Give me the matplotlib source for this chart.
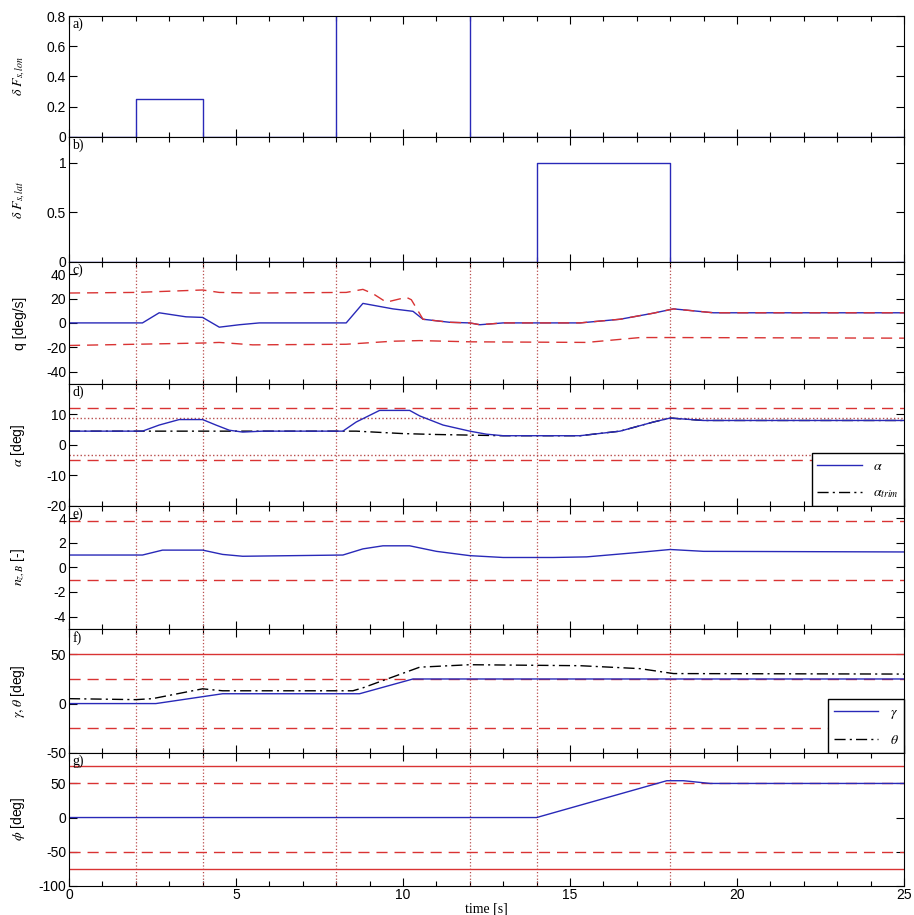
import numpy as np
import matplotlib
matplotlib.use('Agg')
import matplotlib.pyplot as plt
from matplotlib.ticker import MultipleLocator

# ---- data ----
t_lon = [0, 2, 2, 4, 4, 8, 8, 12, 12, 25]
dF_lon = [0, 0, 0.25, 0.25, 0, 0, 1, 1, 0, 0]

t_lat = [0, 14, 14, 18, 18, 25]
dF_lat = [0, 0, 1, 1, 0, 0]

t_q = [0, 2.2, 2.7, 3.5, 4.0, 4.5, 5.1, 5.7, 8.3, 8.8, 9.7, 10.3, 10.6, 11.4, 12.0, 12.3, 13.0, 15.3, 16.5, 17.5, 18.1, 19.3, 25]
q = [0, 0, 8.3, 5, 4.5, -3.5, -1.5, 0, 0, 16, 11.5, 9.5, 3, 0.5, 0, -1.5, 0, 0, 3, 8, 11.5, 8.3, 8.3]
t_q_up = [0, 2, 3.5, 4.0, 4.5, 5.5, 8.3, 8.8, 9.1, 9.5, 10.1, 10.25, 10.6, 11.4, 12.0, 12.3, 13.0, 15.3, 16.5, 17.5, 18.1, 19.3, 25]
q_up = [24.5, 25, 26.5, 27, 25, 24.5, 25, 27.5, 24, 17, 21, 19, 3, 0.5, 0, -1.5, 0, 0, 3, 8, 11.5, 8.3, 8.3]
t_q_lo = [0, 2, 4, 4.5, 5.5, 8.3, 9.7, 10.5, 12, 15.5, 17.1, 18, 25]
q_lo = [-18.5, -17.5, -16.5, -16, -18, -17.5, -15, -14.5, -15.5, -16, -12, -12, -12.5]

t_alpha = [0, 2.2, 2.7, 3.3, 4.0, 4.4, 4.8, 5.2, 5.8, 8.2, 8.6, 9.3, 10.2, 10.5, 11.2, 12, 12.5, 13, 15.3, 16.5, 17.5, 18, 19, 25]
alpha = [4.5, 4.5, 6.5, 8.3, 8.3, 6.5, 4.8, 4.2, 4.5, 4.5, 7.5, 11.3, 11.3, 9.5, 6.5, 4.5, 3.5, 3, 3, 4.5, 7.5, 8.8, 8, 8]
t_alpha_trim = [0, 8.6, 9.3, 10, 11, 12, 12.5, 13, 15.3, 16.5, 17.5, 18, 19, 25]
alpha_trim = [4.5, 4.5, 4.1, 3.7, 3.4, 3.2, 3.1, 3, 3, 4.5, 7.5, 8.8, 8, 8]
alpha_lim = [12, -5]
alpha_dot = [8.7, -3.2]

t_nz = [0, 2.2, 2.8, 4.0, 4.6, 5.2, 8.2, 8.8, 9.4, 10.2, 11, 12, 13, 14.5, 15.5, 17, 18, 19, 25]
nz = [1, 1, 1.4, 1.4, 1.05, 0.9, 1.0, 1.5, 1.75, 1.75, 1.3, 0.95, 0.8, 0.8, 0.85, 1.2, 1.45, 1.3, 1.25]
nz_lim = [3.8, -1]

t_gamma = [0, 2.6, 4.0, 4.6, 8.7, 10.3, 25]
gamma = [0, 0, 7, 10, 10, 25, 25]
t_theta = [0, 2, 2.5, 4.0, 4.6, 8.5, 8.8, 10.5, 12, 15.3, 17.1, 18.1, 25]
theta = [5, 4, 5, 15, 13, 13, 16, 37, 39.5, 38.5, 35.5, 30.5, 30]
gam_solid = [50]
gam_dash = [25, -25]

t_phi = [0, 14, 17.9, 18.4, 19.2, 25]
phi = [0, 0, 54, 54, 50, 50]
phi_solid = [75, -75]
phi_dash = [50, -50]

t_events = [2, 4, 8, 12, 14, 18]

blue = (0.16, 0.16, 0.72)
red = (0.85, 0.2, 0.2)
dotc = (0.72, 0.3, 0.3)

plt.rcParams['font.family'] = ['Liberation Sans', 'DejaVu Sans']
plt.rcParams['mathtext.fontset'] = 'stix'
plt.rcParams['axes.unicode_minus'] = False

fig = plt.figure(figsize=(9.14, 9.15), dpi=100)
gs = fig.add_gridspec(7, 1, height_ratios=[121, 125, 122, 122, 123, 124, 133],
                      left=0.0755, right=0.989, top=0.9825, bottom=0.032, hspace=0)
axs = [fig.add_subplot(gs[i, 0]) for i in range(7)]

for i, ax in enumerate(axs):
    ax.set_xlim(0, 25)
    ax.xaxis.set_major_locator(MultipleLocator(5))
    ax.xaxis.set_minor_locator(MultipleLocator(1))
    ax.tick_params(which='both', direction='in', top=True, right=True, labelsize=10, pad=2)
    ax.tick_params(which='major', length=6, width=0.8)
    ax.tick_params(which='minor', length=3.5, width=0.8)
    if i < 6:
        ax.tick_params(labelbottom=False)
    ax.text(0.004, 0.985, 'abcdefg'[i] + ')', transform=ax.transAxes, va='top', ha='left',
            fontsize=10, family='Liberation Serif')
    if i >= 2:
        for te in t_events:
            ax.axvline(te, color=dotc, ls=':', lw=0.9)

ax = axs[0]
ax.plot(t_lon, dF_lon, color=blue, lw=1)
ax.set_ylim(0, 0.8)
ax.set_yticks([0, 0.2, 0.4, 0.6, 0.8])
ax.set_yticklabels(['0', '0.2', '0.4', '0.6', '0.8'])
ax.set_ylabel(r'$\delta\ F_{s,lon}$')

ax = axs[1]
ax.plot(t_lat, dF_lat, color=blue, lw=1)
ax.set_ylim(0, 1.26)
ax.set_yticks([0, 0.5, 1])
ax.set_yticklabels(['0', '0.5', '1'])
ax.set_ylabel(r'$\delta\ F_{s,lat}$')

ax = axs[2]
ax.plot(t_q, q, color=blue, lw=1)
ax.plot(t_q_up, q_up, color=red, ls=(0, (8, 5)), lw=1)
ax.plot(t_q_lo, q_lo, color=red, ls=(0, (8, 5)), lw=1)
ax.set_ylim(-50, 50)
ax.set_yticks([-40, -20, 0, 20, 40])
ax.set_ylabel('q [deg/s]')

ax = axs[3]
for v in alpha_lim:
    ax.axhline(v, color=red, ls=(0, (8, 5)), lw=1)
for v in alpha_dot:
    ax.axhline(v, color=dotc, ls=':', lw=1)
ax.plot(t_alpha_trim, alpha_trim, color='k', ls=(0, (8, 3, 1.5, 3)), lw=1, label=r'$\alpha_{trim}$')
ax.plot(t_alpha, alpha, color=blue, lw=1, label=r'$\alpha$')
h, l = ax.get_legend_handles_labels()
ax.legend(h[::-1], l[::-1], loc='lower right', fancybox=False, edgecolor='k', fontsize=10,
          borderaxespad=0, handlelength=3.2, labelspacing=0.9, framealpha=1)
ax.set_ylim(-20, 20)
ax.set_yticks([-20, -10, 0, 10])
ax.set_ylabel(r'$\alpha$ [deg]')

ax = axs[4]
for v in nz_lim:
    ax.axhline(v, color=red, ls=(0, (8, 5)), lw=1)
ax.plot(t_nz, nz, color=blue, lw=1)
ax.set_ylim(-5, 5)
ax.set_yticks([-4, -2, 0, 2, 4])
ax.set_ylabel(r'$n_{z,B}$ [-]')

ax = axs[5]
for v in gam_solid:
    ax.axhline(v, color=red, lw=1)
for v in gam_dash:
    ax.axhline(v, color=red, ls=(0, (8, 5)), lw=1)
ax.plot(t_gamma, gamma, color=blue, lw=1, label=r'$\gamma$')
ax.plot(t_theta, theta, color='k', ls=(0, (8, 3, 1.5, 3)), lw=1, label=r'$\theta$')
ax.legend(loc='lower right', fancybox=False, edgecolor='k', fontsize=10,
          borderaxespad=0, handlelength=3.2, labelspacing=0.9, framealpha=1)
ax.set_ylim(-50, 76)
ax.set_yticks([-50, 0, 50])
ax.set_ylabel(r'$\gamma,\theta$ [deg]')

ax = axs[6]
for v in phi_solid:
    ax.axhline(v, color=red, lw=1)
for v in phi_dash:
    ax.axhline(v, color=red, ls=(0, (8, 5)), lw=1)
ax.plot(t_phi, phi, color=blue, lw=1)
ax.set_ylim(-100, 95)
ax.set_yticks([-100, -50, 0, 50])
ax.set_ylabel(r'$\phi$ [deg]')
ax.set_xticks([0, 5, 10, 15, 20, 25])
ax.set_xlabel('time [s]', family='Liberation Serif', fontsize=10, labelpad=0)

for ax in axs:
    ax.yaxis.set_label_coords(-0.05, 0.5)

fig.savefig('out.png', dpi=100)
